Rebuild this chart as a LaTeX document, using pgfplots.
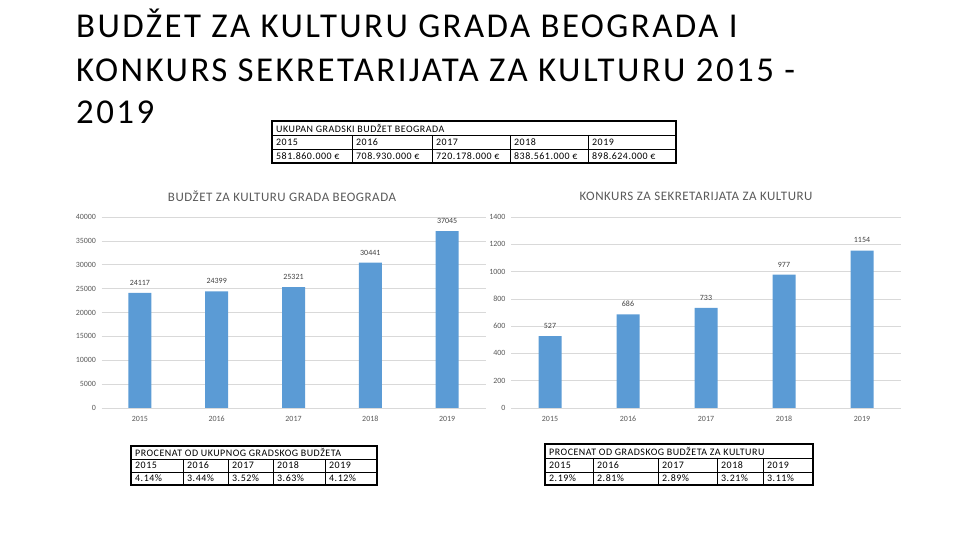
\documentclass[border=0pt]{standalone}
\usepackage{fontspec}
\setmainfont{Carlito}
\newfontfamily\ttl[LetterSpace=7]{Carlito}
\newfontfamily\tbf[LetterSpace=5]{Carlito}
\newfontfamily\ctf[LetterSpace=4]{Carlito}
\usepackage{pgfplots}
\pgfplotsset{compat=1.18}
\definecolor{barc}{HTML}{5B9BD5}
\definecolor{gridc}{HTML}{D9D9D9}
\definecolor{tickc}{HTML}{595959}
\definecolor{labc}{HTML}{404040}
\pgfplotsset{mybar/.style={
  scale only axis, ybar, bar width=23bp,
  xmin=-0.5, xmax=4.5, ymin=0,
  xtick={0,1,2,3,4}, xticklabels={2015,2016,2017,2018,2019},
  axis line style={draw=none}, ymajorgrids,
  grid style={color=gridc, line width=0.6pt},
  major tick length=0, scaled y ticks=false,
  tick label style={font=\fontsize{8}{9}\selectfont, color=tickc},
  xticklabel style={yshift=-5bp},
  yticklabel style={xshift=-2bp},
  /pgf/number format/assume math mode=true,
  /pgf/number format/1000 sep={},
  nodes near coords,
  nodes near coords style={font=\fontsize{8}{9}\selectfont, color=labc, anchor=south, yshift=4bp},
}}
\begin{document}
\begin{tikzpicture}
\path[use as bounding box] (0,0) rectangle (960bp,540bp);

% left chart
\begin{axis}[mybar, at={(101.5bp,132bp)}, anchor=south west,
  width=384bp, height=191bp, ymax=40000,
  ytick={0,5000,...,40000}]
\addplot[fill=barc, draw=none] coordinates {(0,24117) (1,24399) (2,25321) (3,30441) (4,37045)};
\end{axis}

% right chart
\begin{axis}[mybar, at={(511bp,132bp)}, anchor=south west,
  width=390bp, height=191bp, ymax=1400,
  ytick={0,200,...,1400}]
\addplot[fill=barc, draw=none] coordinates {(0,527) (1,686) (2,733) (3,977) (4,1154)};
\end{axis}

\begin{scope}[x=1bp,y=-1bp,yshift=540bp]
% main title
\begin{scope}[every node/.style={anchor=base west, inner sep=0, font=\ttl\fontsize{35}{42}\selectfont}]
\node at (76,38) {BUDŽET ZA KULTURU GRADA BEOGRADA I};
\node at (76,82) {KONKURS SEKRETARIJATA ZA KULTURU 2015 -};
\node at (76,124) {2019};
\end{scope}

% chart titles
\node[font=\ctf\fontsize{13}{15}\selectfont, color=tickc] at (282,196) {BUDŽET ZA KULTURU GRADA BEOGRADA};
\node[font=\ctf\fontsize{13}{15}\selectfont, color=tickc] at (696,196) {KONKURS ZA SEKRETARIJATA ZA KULTURU};

\begin{scope}[every node/.style={anchor=west, inner sep=0, font=\tbf\fontsize{10}{11}\selectfont}]
% top table
\draw[line width=0.6pt] (272,135) -- (676,135) (272,149) -- (676,149);
\foreach \x in {352,432,510,588} \draw[line width=0.6pt] (\x,135) -- (\x,163);
\draw[line width=1.5pt] (272,121) rectangle (676,163);
\node at (276,128) {UKUPAN GRADSKI BUDŽET BEOGRADA};
\node at (276,142) {2015}; \node at (356,142) {2016}; \node at (436,142) {2017};
\node at (514,142) {2018}; \node at (592,142) {2019};
\node at (276,156) {581.860.000 €}; \node at (356,156) {708.930.000 €};
\node at (436,156) {720.178.000 €}; \node at (514,156) {838.561.000 €};
\node at (592,156) {898.624.000 €};

% bottom-left table
\draw[line width=0.6pt] (131,459) -- (377,459) (131,472) -- (377,472);
\foreach \x in {183,228,273,325} \draw[line width=0.6pt] (\x,459) -- (\x,485);
\draw[line width=1.5pt] (131,446) rectangle (377,485);
\node at (135,452.5) {PROCENAT OD UKUPNOG GRADSKOG BUDŽETA};
\node at (135,465.5) {2015}; \node at (187,465.5) {2016}; \node at (232,465.5) {2017};
\node at (277,465.5) {2018}; \node at (329,465.5) {2019};
\node at (135,478.5) {4.14\%}; \node at (187,478.5) {3.44\%}; \node at (232,478.5) {3.52\%};
\node at (277,478.5) {3.63\%}; \node at (329,478.5) {4.12\%};

% bottom-right table
\draw[line width=0.6pt] (545,458) -- (813,458) (545,472) -- (813,472);
\foreach \x in {593,658,717,763} \draw[line width=0.6pt] (\x,458) -- (\x,485);
\draw[line width=1.5pt] (545,444) rectangle (813,485);
\node at (549,451) {PROCENAT OD GRADSKOG BUDŽETA ZA KULTURU};
\node at (549,465) {2015}; \node at (597,465) {2016}; \node at (662,465) {2017};
\node at (721,465) {2018}; \node at (767,465) {2019};
\node at (549,478.5) {2.19\%}; \node at (597,478.5) {2.81\%}; \node at (662,478.5) {2.89\%};
\node at (721,478.5) {3.21\%}; \node at (767,478.5) {3.11\%};
\end{scope}
\end{scope}
\end{tikzpicture}
\end{document}
